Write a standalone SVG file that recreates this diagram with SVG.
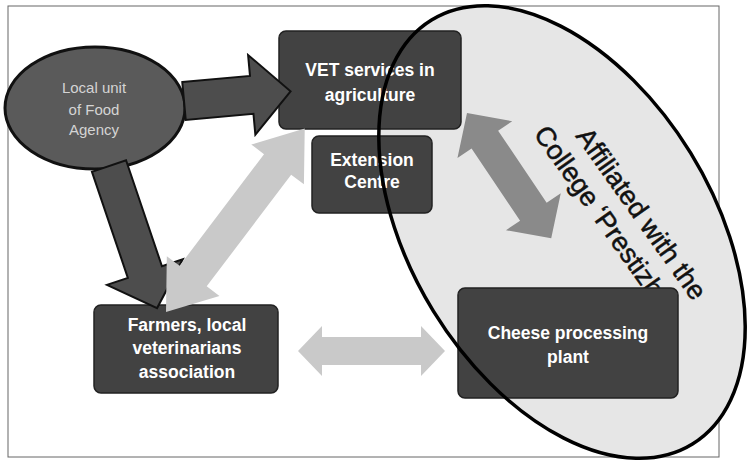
<svg xmlns="http://www.w3.org/2000/svg" width="747" height="461" viewBox="0 0 747 461">
<style>
.box{fill:#424242;stroke:#222;stroke-width:1.5}
.lbl{font-family:"Liberation Sans",Arial,sans-serif;font-weight:bold;font-size:17.5px;fill:#ffffff;text-anchor:middle}
.dark{fill:#4d4d4d;stroke:#111;stroke-width:2;stroke-linejoin:miter}
.light{fill:#c9c9c9}
.mid{fill:#8a8a8a}
.aff{font-family:"Liberation Sans",Arial,sans-serif;font-size:27px;fill:#111;stroke:#111;stroke-width:0.5}
</style>
<rect x="0" y="0" width="747" height="461" fill="#ffffff"/>
<rect x="8" y="6" width="711" height="451" fill="none" stroke="#666" stroke-width="1"/>

<g id="college">
<ellipse cx="562" cy="232" rx="249" ry="151" transform="rotate(58.4 562 232)" fill="#e6e6e6"/>
<text class="aff" transform="translate(575,136) rotate(54.6)">Affiliated with the</text>
<text class="aff" transform="translate(533,134) rotate(54.6)">College ‘Prestizh’</text>
</g>

<g id="local-unit">
<ellipse cx="95" cy="108" rx="90" ry="61" fill="#5a5a5a" stroke="#111" stroke-width="3"/>
<text font-family="Liberation Sans,Arial,sans-serif" font-size="15" fill="#d4d4d4" text-anchor="middle"><tspan x="94" y="93">Local unit</tspan><tspan x="94" y="115">of Food</tspan><tspan x="94" y="135">Agency</tspan></text>
</g>

<g id="vet">
<rect class="box" x="279" y="31" width="182" height="98" rx="7"/>
<text class="lbl"><tspan x="370" y="76">VET services in</tspan><tspan x="370" y="101">agriculture</tspan></text>
</g>

<g id="extension">
<rect class="box" x="312" y="136" width="120" height="77" rx="7"/>
<text class="lbl"><tspan x="372" y="166">Extension</tspan><tspan x="372" y="188">Centre</tspan></text>
</g>

<g id="farmers">
<rect class="box" x="94" y="305" width="184" height="88" rx="7"/>
<text class="lbl"><tspan x="187" y="331">Farmers, local</tspan><tspan x="187" y="354">veterinarians</tspan><tspan x="187" y="378">association</tspan></text>
</g>

<g id="cheese">
<rect class="box" x="458" y="288" width="220" height="110" rx="7"/>
<text class="lbl"><tspan x="568" y="339">Cheese processing</tspan><tspan x="568" y="363">plant</tspan></text>
</g>

<g id="connectors">
<polygon class="dark" transform="translate(109,166) rotate(71.3)" points="0,-18 112,-18 112,-40 150,0 112,40 112,18 0,18"/>
<polygon class="dark" transform="translate(184,101) rotate(-5.2)" points="0,-19 68,-19 68,-40 107,0 68,40 68,19 0,19"/>
<polygon class="light" transform="translate(166,312) rotate(-52.9)" points="0,0 45,-33 45,-17 185,-17 185,-33 230,0 185,33 185,17 45,17 45,33"/>
<polygon class="light" transform="translate(298,351)" points="0,0 24,-25 24,-14 123,-14 123,-25 147,0 123,25 123,14 24,14 24,25"/>
<polygon class="mid" transform="translate(467,113) rotate(56.1)" points="0,0 32,-33 32,-16 119,-16 119,-33 151,0 119,33 119,16 32,16 32,33"/>
</g>

<g id="college-outline">
<ellipse cx="562" cy="232" rx="249" ry="151" transform="rotate(58.4 562 232)" fill="none" stroke="#000" stroke-width="3.5"/>
</g>
</svg>
